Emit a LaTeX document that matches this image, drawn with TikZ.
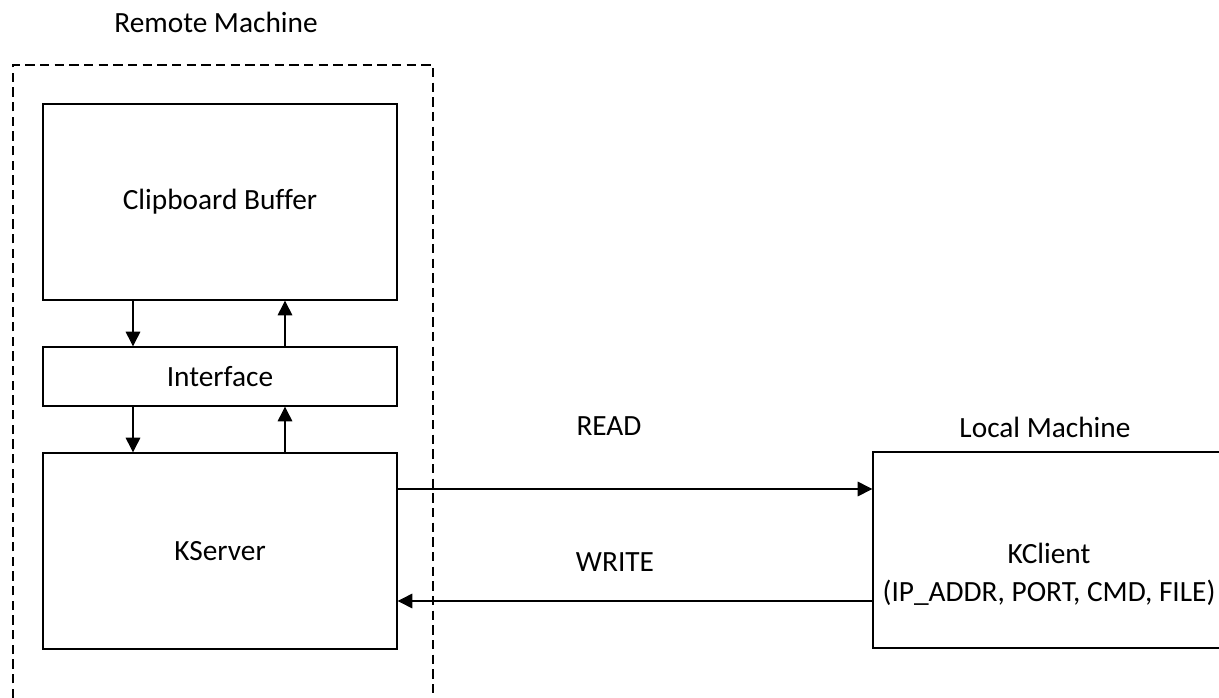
\documentclass[tikz,border=0pt]{standalone}
\usepackage{fontspec}
\setmainfont{Carlito}[Ligatures=NoCommon]
\usetikzlibrary{arrows.meta}
\tikzset{
  blk/.style={draw, line width=1pt, inner sep=0pt, minimum width=265.5pt},
  flow/.style={-{Triangle[length=11pt,width=11pt]}, line width=0.8pt},
  txt/.style={font=\fontsize{22}{28.5}\selectfont, align=center},
}
\begin{document}
\begin{tikzpicture}[x=0.75pt, y=-0.75pt]
  \useasboundingbox (0,0) rectangle (1219,698);
  % ---- Remote machine ----
  \draw[dash pattern=on 7pt off 4pt, line width=1pt] (13,698) -- (13,65) -- (433,65) -- (433,698);
  \node[txt] (remote) at (216,22) {Remote Machine};
  \node[blk, minimum height=147pt, txt] (clip) at (220,202) {Clipboard Buffer};
  \node[blk, minimum height=44.25pt, txt] (iface) at (220,376.5) {Interface};
  \node[blk, minimum height=147pt, txt] (kserver) at (220,551) {KServer};
  \coordinate (dl) at (133,0);
  \coordinate (ul) at (285,0);
  \draw[flow] (clip.south -| dl) -- (iface.north -| dl);
  \draw[flow] (iface.north -| ul) -- (clip.south -| ul);
  \draw[flow] (iface.south -| dl) -- (kserver.north -| dl);
  \draw[flow] (kserver.north -| ul) -- (iface.south -| ul);
  % ---- Local machine ----
  \node[txt] (local) at (1045,427) {Local Machine};
  \node[blk, minimum width=264pt, minimum height=147pt] (kclient) at (1049,550) {};
  \node[txt] (kctext) at (1049,574) {KClient\\(IP\_ADDR, PORT, CMD, FILE)};
  % ---- Read / write ----
  \coordinate (rd) at (0,489);
  \coordinate (wr) at (0,601);
  \draw[flow] (kserver.east |- rd) -- (kclient.west |- rd);
  \draw[flow] (kclient.west |- wr) -- (kserver.east |- wr);
  \node[txt] (read) at (609,426) {READ};
  \node[txt] (write) at (615,562) {WRITE};
\end{tikzpicture}
\end{document}
